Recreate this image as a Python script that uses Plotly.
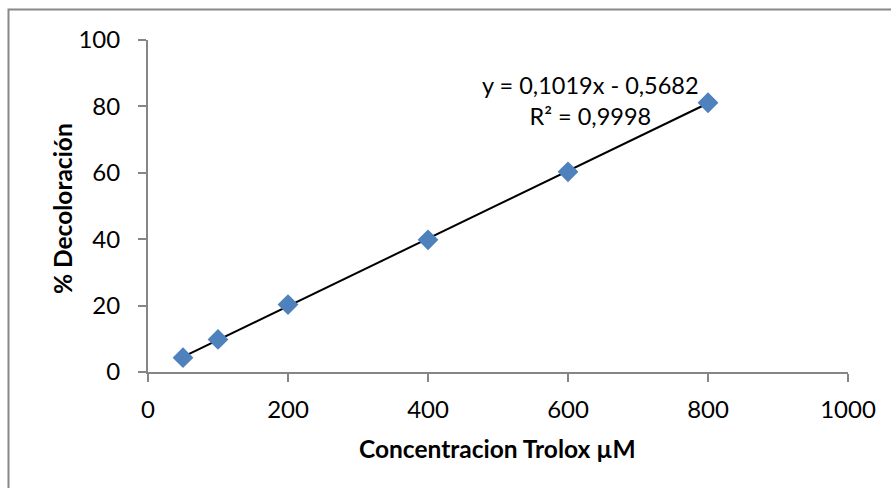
import plotly.graph_objects as go
import numpy as np

conc = [50, 100, 200, 400, 600, 800]
decol = [4.3, 9.8, 20.3, 39.8, 60.3, 81.1]
slope = 0.1019
intercept = -0.5682
eq_text = "y = 0,1019x - 0,5682<br>R² = 0,9998"
x_ticks = [0, 200, 400, 600, 800, 1000]
y_ticks = [0, 20, 40, 60, 80, 100]

FONT = "Lato"
L, R, T, B = 148, 43, 40, 116
W, H = 891, 488
pw, ph = W - L - R, H - T - B

def px_x(p):
    return (p - L) / pw

def px_y(p):
    return (H - B - p) / ph

xs = [min(conc), max(conc)]
ys = [slope * v + intercept for v in xs]

fig = go.Figure()
fig.add_trace(go.Scatter(x=xs, y=ys, mode="lines",
                         line=dict(color="black", width=2), hoverinfo="skip"))
fig.add_trace(go.Scatter(x=conc, y=decol, mode="markers",
                         marker=dict(symbol="diamond", size=16, color="#4F81BD",
                                     line=dict(width=0))))

axis_common = dict(showgrid=False, zeroline=False, showline=True,
                   linecolor="#868686", linewidth=2, ticks="outside",
                   ticklen=8, tickwidth=2, tickcolor="#868686",
                   tickfont=dict(family=FONT, size=24, color="black"))

fig.update_xaxes(range=[0, 1000], tickvals=x_ticks, ticklabelstandoff=7, **axis_common)
fig.update_yaxes(range=[0, 100], tickvals=y_ticks, ticklabelstandoff=13, **axis_common)

fig.add_annotation(x=px_x(590), y=px_y(101), xref="paper", yref="paper",
                   xanchor="center", yanchor="middle",
                   text=eq_text, showarrow=False, align="center",
                   font=dict(family=FONT, size=23.5, color="black"))
fig.add_annotation(x=px_x(497), y=px_y(448), xref="paper", yref="paper",
                   xanchor="center", yanchor="middle",
                   text="<b>Concentracion Trolox µM</b>", showarrow=False,
                   font=dict(family=FONT, size=24.5, color="black"))
fig.add_annotation(x=px_x(62), y=px_y(209), xref="paper", yref="paper",
                   xanchor="center", yanchor="middle",
                   text="<b>% Decoloración</b>", showarrow=False, textangle=-90,
                   font=dict(family=FONT, size=24.5, color="black"))

fig.add_shape(type="rect", xref="paper", yref="paper",
              x0=px_x(8.5), x1=px_x(900), y0=px_y(500), y1=px_y(9.5),
              line=dict(color="#888888", width=2), fillcolor="rgba(0,0,0,0)",
              layer="below")

fig.update_layout(width=W, height=H, margin=dict(l=L, r=R, t=T, b=B),
                  plot_bgcolor="white", paper_bgcolor="white", showlegend=False)

fig.write_html("out.html")
